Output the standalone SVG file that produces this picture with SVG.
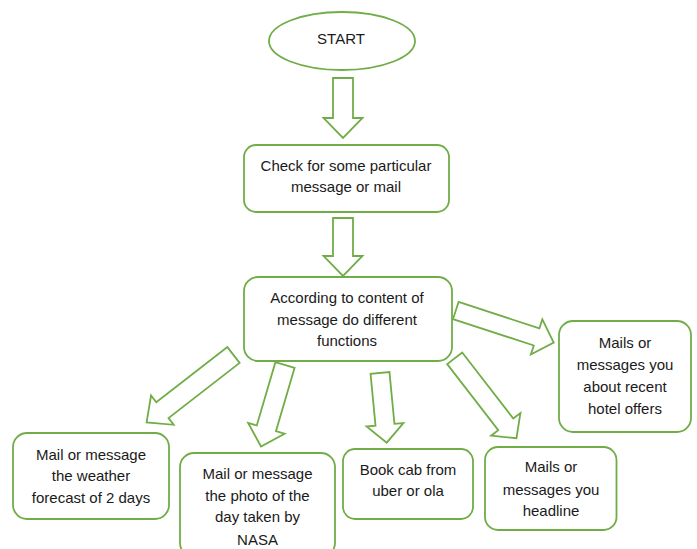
<svg xmlns="http://www.w3.org/2000/svg" width="697" height="549" viewBox="0 0 697 549">
<style>
.n{fill:#fff;stroke:#70AD47;stroke-width:1.8}
.a{fill:#fff;stroke:#70AD47;stroke-width:1.8;stroke-linejoin:miter}
text{font-family:"Liberation Sans",Arial,sans-serif;font-size:15px;fill:#1a1a1a;text-anchor:middle;dominant-baseline:central}
</style>
<rect width="697" height="549" fill="#fff"/>
<g id="connectors">
<polygon class="a" transform="translate(343,78) rotate(90)" points="0,-10 40,-10 40,-19.5 60,0 40,19.5 40,10 0,10"/>
<polygon class="a" transform="translate(343,218) rotate(90)" points="0,-10 38,-10 38,-19.5 58,0 38,19.5 38,10 0,10"/>
<polygon class="a" transform="translate(233.5,355) rotate(142.2)" points="0,-10 90,-10 90,-18.5 110,0 90,18.5 90,10 0,10"/>
<polygon class="a" transform="translate(285,365) rotate(106.4)" points="0,-10 66,-10 66,-19 85,0 66,19 66,10 0,10"/>
<polygon class="a" transform="translate(380,373) rotate(84.5)" points="0,-9.5 52,-9.5 52,-18.5 70,0 52,18.5 52,9.5 0,9.5"/>
<polygon class="a" transform="translate(454.7,358.3) rotate(52.3)" points="0,-9.5 83.5,-9.5 83.5,-18.5 101,0 83.5,18.5 83.5,9.5 0,9.5"/>
<polygon class="a" transform="translate(455.8,310.5) rotate(18.1)" points="0,-9 85,-9 85,-18.5 103,0 85,18.5 85,9 0,9"/>
</g>
<g id="start">
<ellipse class="n" cx="342" cy="41" rx="73" ry="29"/>
<text x="341" y="38">START</text>
</g>
<g id="check">
<rect class="n" x="244" y="145" width="205" height="67" rx="12"/>
<text x="346" y="165">Check for some particular</text>
<text x="346" y="186.5">message or mail</text>
</g>
<g id="according">
<rect class="n" x="244" y="277" width="208" height="84" rx="14"/>
<text x="347" y="297">According to content of</text>
<text x="347" y="319">message do different</text>
<text x="347" y="340">functions</text>
</g>
<g id="weather">
<rect class="n" x="13" y="433" width="156" height="86" rx="14"/>
<text x="91" y="454">Mail or message</text>
<text x="91" y="475.5">the weather</text>
<text x="91" y="497">forecast of 2 days</text>
</g>
<g id="nasa">
<rect class="n" x="180" y="453" width="155" height="104" rx="14"/>
<text x="257.5" y="473.5">Mail or message</text>
<text x="257.5" y="495">the photo of the</text>
<text x="257.5" y="516.5">day taken by</text>
<text x="257.5" y="539">NASA</text>
</g>
<g id="cab">
<rect class="n" x="343" y="449" width="130" height="70" rx="12"/>
<text x="408" y="469">Book cab from</text>
<text x="408" y="490.5">uber or ola</text>
</g>
<g id="headline">
<rect class="n" x="485" y="447" width="131.5" height="83" rx="13"/>
<text x="551" y="466.5">Mails or</text>
<text x="551" y="489">messages you</text>
<text x="551" y="510">headline</text>
</g>
<g id="hotel">
<rect class="n" x="559" y="321" width="132" height="111" rx="14"/>
<text x="625" y="342">Mails or</text>
<text x="625" y="364">messages you</text>
<text x="625" y="386.5">about recent</text>
<text x="625" y="408">hotel offers</text>
</g>
</svg>
